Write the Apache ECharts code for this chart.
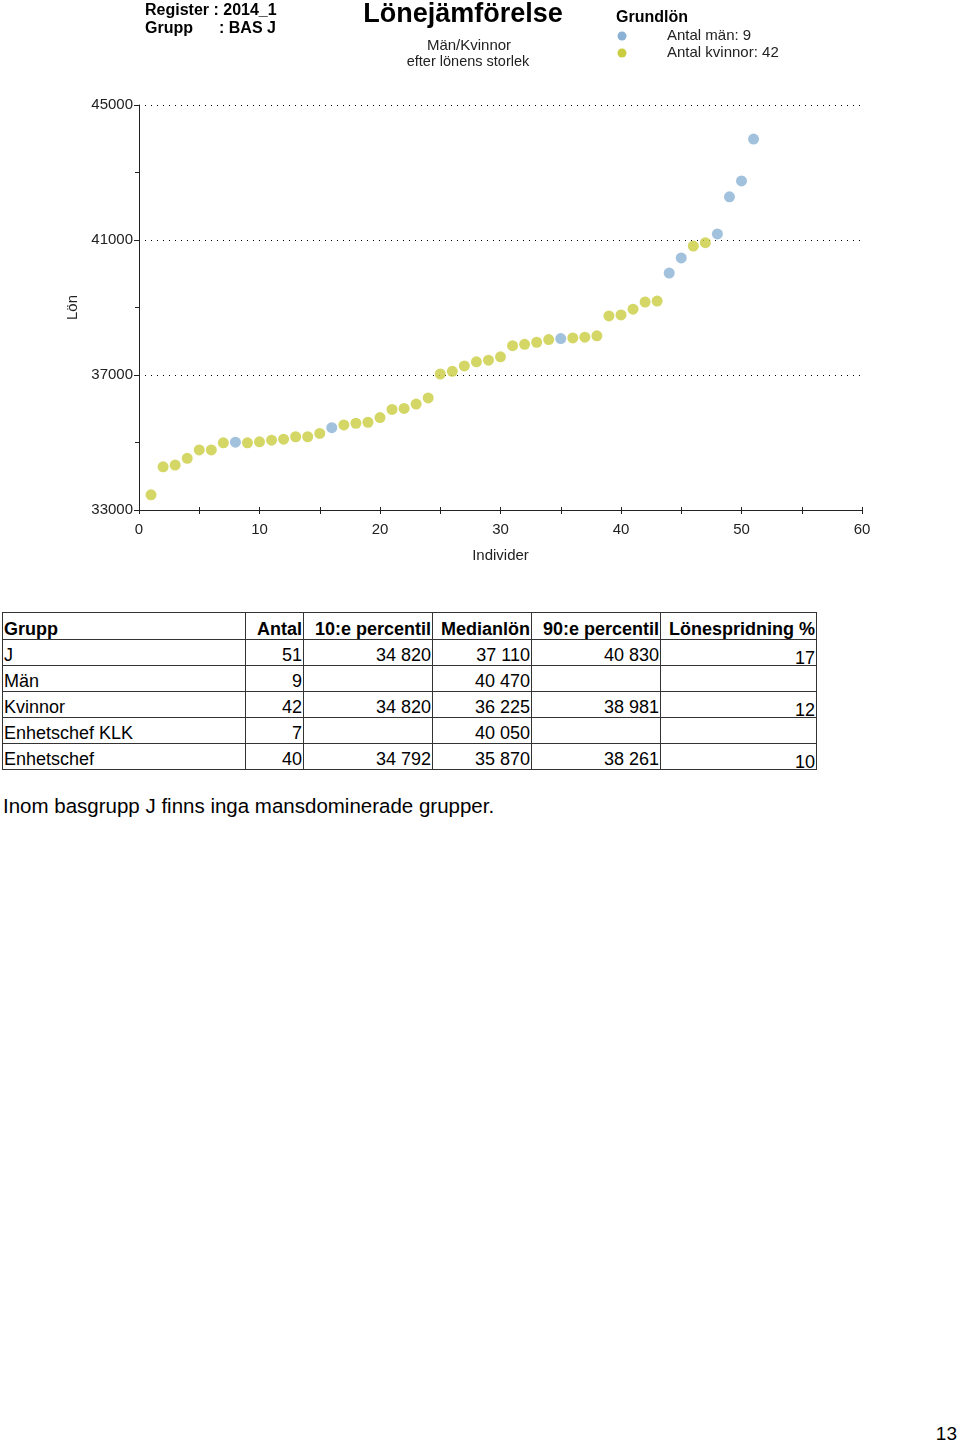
<!DOCTYPE html>
<html>
<head>
<meta charset="utf-8">
<script src="https://cdn.jsdelivr.net/npm/echarts/dist/echarts.min.js"></script>
<style>
  html, body { margin:0; padding:0; background:#fff; width:960px; height:1442px; overflow:hidden; }
  #chart { position:absolute; left:0; top:0; width:960px; height:590px; }
  #tbl { position:absolute; left:2px; top:612px; }
  table { border-collapse:collapse; font-family:'Liberation Sans', Arial, sans-serif; font-size:18px; color:#000; }
  td, th { border:1px solid #333; padding:0 1px; height:25px; line-height:20px; vertical-align:bottom; white-space:nowrap; }
  th { font-weight:bold; text-align:right; height:26px; }
  th.l, td.l { text-align:left; }
  td { text-align:right; }
  td.sp span { position:relative; top:3px; }
  #note { position:absolute; left:3px; top:794px; font-family:'Liberation Sans', Arial, sans-serif; font-size:20.5px; color:#000; }
  #page { position:absolute; right:3px; top:1423px; font-family:'Liberation Sans', Arial, sans-serif; font-size:19px; color:#000; }
</style>
</head>
<body>
<div id="chart"></div>
<div id="tbl"></div>
<div id="note">Inom basgrupp J finns inga mansdominerade grupper.</div>
<div id="page">13</div>
<script>
// ---- chart data ----
const salaries = [33450,34280,34330,34530,34780,34780,34990,35010,34990,35020,
                  35070,35100,35170,35170,35270,35440,35520,35570,35600,35740,
                  35980,36010,36140,36320,37030,37110,37270,37390,37440,37540,
                  37870,37910,37970,38050,38080,38100,38120,38160,38750,38780,
                  38950,39160,39190,40020,40470,40820,40920,41180,42280,42750,43990];
const menIdx = [8,16,35,44,45,48,49,50,51];
const yTicks = [33000,37000,41000,45000];
const xTicks = [0,10,20,30,40,50,60];

// ---- table data ----
const tableHeaders = ['Grupp','Antal','10:e percentil','Medianlön','90:e percentil','Lönespridning %'];
const groups = ['J','Män','Kvinnor','Enhetschef KLK','Enhetschef'];
const antal = [51,9,42,7,40];
const p10 = [34820,null,34820,null,34792];
const median = [37110,40470,36225,40050,35870];
const p90 = [40830,null,38981,null,38261];
const spread = [17,null,12,null,10];

const BASE = yTicks[0];
const fmt = v => v == null ? '' : String(v).replace(/\B(?=(\d{3})+(?!\d))/g, ' ');

// build table
(function(){
  const widths = [243,58,129,99,129,156];
  let h = '<table><colgroup>' + widths.map(w=>'<col style="width:'+w+'px">').join('') + '</colgroup><tr>';
  tableHeaders.forEach((t,i)=>{ h += '<th' + (i===0?' class="l"':'') + '>' + t + '</th>'; });
  h += '</tr>';
  groups.forEach((g,i)=>{
    h += '<tr><td class="l">'+g+'</td><td>'+fmt(antal[i])+'</td><td>'+fmt(p10[i])+'</td><td>'+fmt(median[i])+
         '</td><td>'+fmt(p90[i])+'</td><td class="sp"><span>'+fmt(spread[i])+'</span></td></tr>';
  });
  h += '</table>';
  document.getElementById('tbl').innerHTML = h;
})();

const menSet = new Set(menIdx);
const menData = [], womenData = [];
salaries.forEach((s,i)=>{
  const pt = [i+1, s - BASE];
  (menSet.has(i+1) ? menData : womenData).push(pt);
});

const BLUE = '#8bb1d4', YELLOW = '#c9cd3f';
const FONT = "'Liberation Sans', Arial, sans-serif";
const menName = 'Antal män: ' + menData.length;
const womenName = 'Antal kvinnor: ' + womenData.length;

const chart = echarts.init(document.getElementById('chart'), null, {renderer:'canvas'});
const axisCol = '#222';
chart.setOption({
  animation:false,
  grid:{ left:139, top:105, width:723, height:405 },
  xAxis:[{
    type:'value', min:xTicks[0], max:xTicks[xTicks.length-1], interval:xTicks[1]-xTicks[0],
    axisLine:{ show:true, onZero:false, lineStyle:{ color:axisCol, width:1 } },
    axisTick:{ show:true, length:4, lineStyle:{ color:axisCol } },
    minorTick:{ show:true, splitNumber:2, length:4, lineStyle:{ color:axisCol } },
    axisLabel:{ margin:12, fontSize:15, color:'#222', fontFamily:FONT },
    splitLine:{ show:false },
    name:'Individer', nameLocation:'middle', nameGap:38,
    nameTextStyle:{ fontSize:15, color:'#222', fontFamily:FONT }
  },{
    type:'value', position:'top', offset:-405, min:xTicks[0], max:xTicks[xTicks.length-1], interval:xTicks[1]-xTicks[0],
    axisLine:{ show:false },
    axisTick:{ show:true, length:3, lineStyle:{ color:axisCol } },
    minorTick:{ show:true, splitNumber:2, length:3, lineStyle:{ color:axisCol } },
    axisLabel:{ show:false }, splitLine:{ show:false }
  }],
  yAxis:{
    type:'value', min:0, max:yTicks[yTicks.length-1]-BASE, interval:yTicks[1]-yTicks[0],
    axisLine:{ show:true, onZero:false, lineStyle:{ color:axisCol, width:1 } },
    axisTick:{ show:true, length:5, lineStyle:{ color:axisCol } },
    minorTick:{ show:true, splitNumber:2, length:4, lineStyle:{ color:axisCol } },
    axisLabel:{ margin:6, fontSize:15, color:'#222', fontFamily:FONT, formatter:v=>String(v+BASE) },
    splitLine:{ show:true, lineStyle:{ color:'#000', type:[1,5], width:1 } },
    name:'Lön', nameLocation:'middle', nameGap:54,
    nameTextStyle:{ fontSize:15, color:'#222', fontFamily:FONT }
  },
  series:[
    { name:womenName, type:'scatter', data:womenData, symbol:'circle', symbolSize:11,
      itemStyle:{ color:YELLOW }, z:3 },
    { name:menName, type:'scatter', data:menData, symbol:'circle', symbolSize:11,
      itemStyle:{ color:BLUE }, z:4 }
  ],
  graphic:[
    { type:'text', x:145, y:11, style:{ text:'Register : 2014_1', font:"bold 16px "+FONT, fill:'#000', verticalAlign:'middle' } },
    { type:'text', x:145, y:29, style:{ text:'Grupp', font:"bold 16px "+FONT, fill:'#000', verticalAlign:'middle' } },
    { type:'text', x:219, y:29, style:{ text:': BAS J', font:"bold 16px "+FONT, fill:'#000', verticalAlign:'middle' } },
    { type:'text', x:463, y:15, style:{ text:'Lönejämförelse', font:"bold 27px "+FONT, fill:'#000', align:'center', verticalAlign:'middle' } },
    { type:'text', x:469, y:46, style:{ text:'Män/Kvinnor', font:"15px "+FONT, fill:'#222', align:'center', verticalAlign:'middle' } },
    { type:'text', x:468, y:62, style:{ text:'efter lönens storlek', font:"14.5px "+FONT, fill:'#222', align:'center', verticalAlign:'middle' } },
    { type:'text', x:616, y:18, style:{ text:'Grundlön', font:"bold 16px "+FONT, fill:'#000', verticalAlign:'middle' } },
    { type:'circle', shape:{ cx:622, cy:36, r:4.5 }, style:{ fill:BLUE } },
    { type:'text', x:667, y:36, style:{ text:menName, font:"15px "+FONT, fill:'#222', verticalAlign:'middle' } },
    { type:'circle', shape:{ cx:622, cy:53, r:4.5 }, style:{ fill:YELLOW } },
    { type:'text', x:667, y:53, style:{ text:womenName, font:"15px "+FONT, fill:'#222', verticalAlign:'middle' } }
  ]
});
</script>
</body>
</html>
